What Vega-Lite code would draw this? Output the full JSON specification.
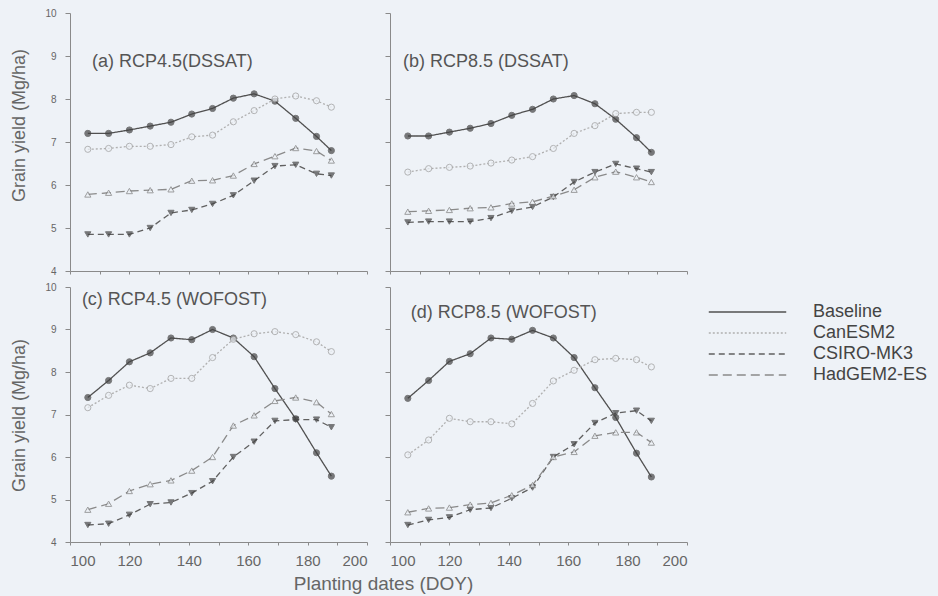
{
  "$schema": "https://vega.github.io/schema/vega-lite/v6.json",
  "autosize": {"type": "none"},
  "padding": {"left": 70, "top": 13, "right": 868, "bottom": 583},
  "background": "#eef2f7",
  "bounds": "flush",
  "columns": 2,
  "spacing": {"row": 16, "column": 23},
  "config": {
    "view": {"stroke": null},
    "font": "Liberation Sans",
    "axis": {"grid": false, "domainColor": "#8a8a8a", "tickColor": "#8a8a8a", "labelColor": "#666", "titleColor": "#666", "labelFont": "Liberation Sans", "titleFont": "Liberation Sans", "titleFontWeight": "normal"},
    "axisX": {"labelFontSize": 15, "tickSize": 3, "labelPadding": 8, "values": [100, 120, 140, 160, 180, 200]},
    "axisY": {"labelFontSize": 10, "tickSize": 5, "labelPadding": 9, "titleFontSize": 18, "values": [4, 5, 6, 7, 8, 9, 10]}
  },
  "data": {"values": [
    {"p":"a","m":"Baseline","d":106,"y":7.2},{"p":"a","m":"Baseline","d":113,"y":7.2},{"p":"a","m":"Baseline","d":120,"y":7.28},{"p":"a","m":"Baseline","d":127,"y":7.37},{"p":"a","m":"Baseline","d":134,"y":7.46},{"p":"a","m":"Baseline","d":141,"y":7.65},{"p":"a","m":"Baseline","d":148,"y":7.78},{"p":"a","m":"Baseline","d":155,"y":8.02},{"p":"a","m":"Baseline","d":162,"y":8.12},{"p":"a","m":"Baseline","d":169,"y":7.95},{"p":"a","m":"Baseline","d":176,"y":7.55},{"p":"a","m":"Baseline","d":183,"y":7.13},{"p":"a","m":"Baseline","d":188,"y":6.8},
    {"p":"a","m":"CanESM2","d":106,"y":6.83},{"p":"a","m":"CanESM2","d":113,"y":6.85},{"p":"a","m":"CanESM2","d":120,"y":6.9},{"p":"a","m":"CanESM2","d":127,"y":6.9},{"p":"a","m":"CanESM2","d":134,"y":6.94},{"p":"a","m":"CanESM2","d":141,"y":7.12},{"p":"a","m":"CanESM2","d":148,"y":7.16},{"p":"a","m":"CanESM2","d":155,"y":7.47},{"p":"a","m":"CanESM2","d":162,"y":7.73},{"p":"a","m":"CanESM2","d":169,"y":8.0},{"p":"a","m":"CanESM2","d":176,"y":8.07},{"p":"a","m":"CanESM2","d":183,"y":7.96},{"p":"a","m":"CanESM2","d":188,"y":7.81},
    {"p":"a","m":"CSIRO-MK3","d":106,"y":4.85},{"p":"a","m":"CSIRO-MK3","d":113,"y":4.85},{"p":"a","m":"CSIRO-MK3","d":120,"y":4.85},{"p":"a","m":"CSIRO-MK3","d":127,"y":5.0},{"p":"a","m":"CSIRO-MK3","d":134,"y":5.35},{"p":"a","m":"CSIRO-MK3","d":141,"y":5.42},{"p":"a","m":"CSIRO-MK3","d":148,"y":5.56},{"p":"a","m":"CSIRO-MK3","d":155,"y":5.76},{"p":"a","m":"CSIRO-MK3","d":162,"y":6.1},{"p":"a","m":"CSIRO-MK3","d":169,"y":6.44},{"p":"a","m":"CSIRO-MK3","d":176,"y":6.47},{"p":"a","m":"CSIRO-MK3","d":183,"y":6.26},{"p":"a","m":"CSIRO-MK3","d":188,"y":6.22},
    {"p":"a","m":"HadGEM2-ES","d":106,"y":5.78},{"p":"a","m":"HadGEM2-ES","d":113,"y":5.82},{"p":"a","m":"HadGEM2-ES","d":120,"y":5.86},{"p":"a","m":"HadGEM2-ES","d":127,"y":5.88},{"p":"a","m":"HadGEM2-ES","d":134,"y":5.9},{"p":"a","m":"HadGEM2-ES","d":141,"y":6.1},{"p":"a","m":"HadGEM2-ES","d":148,"y":6.11},{"p":"a","m":"HadGEM2-ES","d":155,"y":6.22},{"p":"a","m":"HadGEM2-ES","d":162,"y":6.49},{"p":"a","m":"HadGEM2-ES","d":169,"y":6.67},{"p":"a","m":"HadGEM2-ES","d":176,"y":6.86},{"p":"a","m":"HadGEM2-ES","d":183,"y":6.79},{"p":"a","m":"HadGEM2-ES","d":188,"y":6.57},
    {"p":"b","m":"Baseline","d":106,"y":7.14},{"p":"b","m":"Baseline","d":113,"y":7.14},{"p":"b","m":"Baseline","d":120,"y":7.23},{"p":"b","m":"Baseline","d":127,"y":7.32},{"p":"b","m":"Baseline","d":134,"y":7.43},{"p":"b","m":"Baseline","d":141,"y":7.62},{"p":"b","m":"Baseline","d":148,"y":7.76},{"p":"b","m":"Baseline","d":155,"y":8.0},{"p":"b","m":"Baseline","d":162,"y":8.08},{"p":"b","m":"Baseline","d":169,"y":7.89},{"p":"b","m":"Baseline","d":176,"y":7.53},{"p":"b","m":"Baseline","d":183,"y":7.1},{"p":"b","m":"Baseline","d":188,"y":6.76},
    {"p":"b","m":"CanESM2","d":106,"y":6.3},{"p":"b","m":"CanESM2","d":113,"y":6.38},{"p":"b","m":"CanESM2","d":120,"y":6.41},{"p":"b","m":"CanESM2","d":127,"y":6.44},{"p":"b","m":"CanESM2","d":134,"y":6.51},{"p":"b","m":"CanESM2","d":141,"y":6.58},{"p":"b","m":"CanESM2","d":148,"y":6.66},{"p":"b","m":"CanESM2","d":155,"y":6.85},{"p":"b","m":"CanESM2","d":162,"y":7.2},{"p":"b","m":"CanESM2","d":169,"y":7.38},{"p":"b","m":"CanESM2","d":176,"y":7.66},{"p":"b","m":"CanESM2","d":183,"y":7.69},{"p":"b","m":"CanESM2","d":188,"y":7.69},
    {"p":"b","m":"CSIRO-MK3","d":106,"y":5.13},{"p":"b","m":"CSIRO-MK3","d":113,"y":5.15},{"p":"b","m":"CSIRO-MK3","d":120,"y":5.15},{"p":"b","m":"CSIRO-MK3","d":127,"y":5.15},{"p":"b","m":"CSIRO-MK3","d":134,"y":5.23},{"p":"b","m":"CSIRO-MK3","d":141,"y":5.4},{"p":"b","m":"CSIRO-MK3","d":148,"y":5.49},{"p":"b","m":"CSIRO-MK3","d":155,"y":5.72},{"p":"b","m":"CSIRO-MK3","d":162,"y":6.07},{"p":"b","m":"CSIRO-MK3","d":169,"y":6.3},{"p":"b","m":"CSIRO-MK3","d":176,"y":6.49},{"p":"b","m":"CSIRO-MK3","d":183,"y":6.38},{"p":"b","m":"CSIRO-MK3","d":188,"y":6.3},
    {"p":"b","m":"HadGEM2-ES","d":106,"y":5.38},{"p":"b","m":"HadGEM2-ES","d":113,"y":5.4},{"p":"b","m":"HadGEM2-ES","d":120,"y":5.42},{"p":"b","m":"HadGEM2-ES","d":127,"y":5.46},{"p":"b","m":"HadGEM2-ES","d":134,"y":5.48},{"p":"b","m":"HadGEM2-ES","d":141,"y":5.57},{"p":"b","m":"HadGEM2-ES","d":148,"y":5.61},{"p":"b","m":"HadGEM2-ES","d":155,"y":5.74},{"p":"b","m":"HadGEM2-ES","d":162,"y":5.89},{"p":"b","m":"HadGEM2-ES","d":169,"y":6.18},{"p":"b","m":"HadGEM2-ES","d":176,"y":6.31},{"p":"b","m":"HadGEM2-ES","d":183,"y":6.18},{"p":"b","m":"HadGEM2-ES","d":188,"y":6.07},
    {"p":"c","m":"Baseline","d":106,"y":7.4},{"p":"c","m":"Baseline","d":113,"y":7.8},{"p":"c","m":"Baseline","d":120,"y":8.24},{"p":"c","m":"Baseline","d":127,"y":8.45},{"p":"c","m":"Baseline","d":134,"y":8.8},{"p":"c","m":"Baseline","d":141,"y":8.76},{"p":"c","m":"Baseline","d":148,"y":9.0},{"p":"c","m":"Baseline","d":155,"y":8.8},{"p":"c","m":"Baseline","d":162,"y":8.36},{"p":"c","m":"Baseline","d":169,"y":7.61},{"p":"c","m":"Baseline","d":176,"y":6.9},{"p":"c","m":"Baseline","d":183,"y":6.1},{"p":"c","m":"Baseline","d":188,"y":5.55},
    {"p":"c","m":"CanESM2","d":106,"y":7.16},{"p":"c","m":"CanESM2","d":113,"y":7.45},{"p":"c","m":"CanESM2","d":120,"y":7.69},{"p":"c","m":"CanESM2","d":127,"y":7.61},{"p":"c","m":"CanESM2","d":134,"y":7.85},{"p":"c","m":"CanESM2","d":141,"y":7.85},{"p":"c","m":"CanESM2","d":148,"y":8.34},{"p":"c","m":"CanESM2","d":155,"y":8.77},{"p":"c","m":"CanESM2","d":162,"y":8.9},{"p":"c","m":"CanESM2","d":169,"y":8.95},{"p":"c","m":"CanESM2","d":176,"y":8.88},{"p":"c","m":"CanESM2","d":183,"y":8.71},{"p":"c","m":"CanESM2","d":188,"y":8.48},
    {"p":"c","m":"CSIRO-MK3","d":106,"y":4.4},{"p":"c","m":"CSIRO-MK3","d":113,"y":4.43},{"p":"c","m":"CSIRO-MK3","d":120,"y":4.64},{"p":"c","m":"CSIRO-MK3","d":127,"y":4.89},{"p":"c","m":"CSIRO-MK3","d":134,"y":4.93},{"p":"c","m":"CSIRO-MK3","d":141,"y":5.15},{"p":"c","m":"CSIRO-MK3","d":148,"y":5.43},{"p":"c","m":"CSIRO-MK3","d":155,"y":6.0},{"p":"c","m":"CSIRO-MK3","d":162,"y":6.36},{"p":"c","m":"CSIRO-MK3","d":169,"y":6.85},{"p":"c","m":"CSIRO-MK3","d":176,"y":6.88},{"p":"c","m":"CSIRO-MK3","d":183,"y":6.88},{"p":"c","m":"CSIRO-MK3","d":188,"y":6.7},
    {"p":"c","m":"HadGEM2-ES","d":106,"y":4.76},{"p":"c","m":"HadGEM2-ES","d":113,"y":4.9},{"p":"c","m":"HadGEM2-ES","d":120,"y":5.2},{"p":"c","m":"HadGEM2-ES","d":127,"y":5.36},{"p":"c","m":"HadGEM2-ES","d":134,"y":5.45},{"p":"c","m":"HadGEM2-ES","d":141,"y":5.68},{"p":"c","m":"HadGEM2-ES","d":148,"y":6.0},{"p":"c","m":"HadGEM2-ES","d":155,"y":6.74},{"p":"c","m":"HadGEM2-ES","d":162,"y":6.98},{"p":"c","m":"HadGEM2-ES","d":169,"y":7.32},{"p":"c","m":"HadGEM2-ES","d":176,"y":7.4},{"p":"c","m":"HadGEM2-ES","d":183,"y":7.29},{"p":"c","m":"HadGEM2-ES","d":188,"y":7.01},
    {"p":"d","m":"Baseline","d":106,"y":7.38},{"p":"d","m":"Baseline","d":113,"y":7.8},{"p":"d","m":"Baseline","d":120,"y":8.25},{"p":"d","m":"Baseline","d":127,"y":8.43},{"p":"d","m":"Baseline","d":134,"y":8.8},{"p":"d","m":"Baseline","d":141,"y":8.77},{"p":"d","m":"Baseline","d":148,"y":8.98},{"p":"d","m":"Baseline","d":155,"y":8.8},{"p":"d","m":"Baseline","d":162,"y":8.34},{"p":"d","m":"Baseline","d":169,"y":7.63},{"p":"d","m":"Baseline","d":176,"y":6.93},{"p":"d","m":"Baseline","d":183,"y":6.09},{"p":"d","m":"Baseline","d":188,"y":5.53},
    {"p":"d","m":"CanESM2","d":106,"y":6.05},{"p":"d","m":"CanESM2","d":113,"y":6.4},{"p":"d","m":"CanESM2","d":120,"y":6.91},{"p":"d","m":"CanESM2","d":127,"y":6.83},{"p":"d","m":"CanESM2","d":134,"y":6.83},{"p":"d","m":"CanESM2","d":141,"y":6.78},{"p":"d","m":"CanESM2","d":148,"y":7.26},{"p":"d","m":"CanESM2","d":155,"y":7.79},{"p":"d","m":"CanESM2","d":162,"y":8.04},{"p":"d","m":"CanESM2","d":169,"y":8.29},{"p":"d","m":"CanESM2","d":176,"y":8.32},{"p":"d","m":"CanESM2","d":183,"y":8.29},{"p":"d","m":"CanESM2","d":188,"y":8.12},
    {"p":"d","m":"CSIRO-MK3","d":106,"y":4.4},{"p":"d","m":"CSIRO-MK3","d":113,"y":4.52},{"p":"d","m":"CSIRO-MK3","d":120,"y":4.58},{"p":"d","m":"CSIRO-MK3","d":127,"y":4.76},{"p":"d","m":"CSIRO-MK3","d":134,"y":4.8},{"p":"d","m":"CSIRO-MK3","d":141,"y":5.03},{"p":"d","m":"CSIRO-MK3","d":148,"y":5.28},{"p":"d","m":"CSIRO-MK3","d":155,"y":6.0},{"p":"d","m":"CSIRO-MK3","d":162,"y":6.3},{"p":"d","m":"CSIRO-MK3","d":169,"y":6.8},{"p":"d","m":"CSIRO-MK3","d":176,"y":7.03},{"p":"d","m":"CSIRO-MK3","d":183,"y":7.09},{"p":"d","m":"CSIRO-MK3","d":188,"y":6.85},
    {"p":"d","m":"HadGEM2-ES","d":106,"y":4.7},{"p":"d","m":"HadGEM2-ES","d":113,"y":4.79},{"p":"d","m":"HadGEM2-ES","d":120,"y":4.81},{"p":"d","m":"HadGEM2-ES","d":127,"y":4.88},{"p":"d","m":"HadGEM2-ES","d":134,"y":4.92},{"p":"d","m":"HadGEM2-ES","d":141,"y":5.1},{"p":"d","m":"HadGEM2-ES","d":148,"y":5.34},{"p":"d","m":"HadGEM2-ES","d":155,"y":6.0},{"p":"d","m":"HadGEM2-ES","d":162,"y":6.12},{"p":"d","m":"HadGEM2-ES","d":169,"y":6.5},{"p":"d","m":"HadGEM2-ES","d":176,"y":6.58},{"p":"d","m":"HadGEM2-ES","d":183,"y":6.58},{"p":"d","m":"HadGEM2-ES","d":188,"y":6.34}
  ]},
  "concat": [
    {
      "width": 297, "height": 258,
      "layer": [
        {"transform": [{"filter": "datum.p == 'a'"}], "mark": {"type": "line", "strokeWidth": 1.3},
         "encoding": {
           "x": {"field": "d", "type": "quantitative", "scale": {"domain": [100, 200], "nice": false}, "axis": {"labels": false, "title": null}},
           "y": {"field": "y", "type": "quantitative", "scale": {"domain": [4, 10], "nice": false, "zero": false}, "axis": {"title": "Grain yield (Mg/ha)", "titleX": -51, "titleY": 112, "titleAlign": "center", "titleBaseline": "middle"}},
           "color": {"field": "m", "type": "nominal", "scale": {"domain": ["Baseline", "CanESM2", "CSIRO-MK3", "HadGEM2-ES"], "range": ["#505050", "#b0b0b0", "#606060", "#8a8a8a"]},
             "legend": {"orient": "none", "legendX": 638, "legendY": 290, "title": null, "padding": 0, "symbolType": "stroke", "symbolSize": 6000, "clipHeight": 18, "symbolStrokeWidth": 1.3, "labelFontSize": 18, "labelFont": "Liberation Sans", "labelColor": "#444", "labelOffset": 26, "rowPadding": 3}},
           "strokeDash": {"field": "m", "type": "nominal", "scale": {"domain": ["Baseline", "CanESM2", "CSIRO-MK3", "HadGEM2-ES"], "range": [[1, 0], [2, 2], [6, 4], [9, 5]]}}
         }},
        {"transform": [{"filter": "datum.p == 'a'"}], "mark": {"type": "point", "filled": true, "strokeWidth": 1, "size": 38},
         "encoding": {
           "x": {"field": "d", "type": "quantitative"},
           "y": {"field": "y", "type": "quantitative"},
           "shape": {"field": "m", "type": "nominal", "scale": {"domain": ["HadGEM2-ES", "CSIRO-MK3", "CanESM2", "Baseline"], "range": ["triangle-up", "triangle-down", "circle", "circle"]}, "legend": null},
           "fill": {"field": "m", "type": "nominal", "scale": {"domain": ["HadGEM2-ES", "CSIRO-MK3", "CanESM2", "Baseline"], "range": ["#eef2f7", "#444444", "#eef2f7", "#444444"]}, "legend": null},
           "stroke": {"field": "m", "type": "nominal", "scale": {"domain": ["HadGEM2-ES", "CSIRO-MK3", "CanESM2", "Baseline"], "range": ["#7a7a7a", "#444444", "#9a9a9a", "#444444"]}, "legend": null}
         }},
        {"data": {"values": [{"t": "(a) RCP4.5(DSSAT)"}]}, "mark": {"type": "text", "align": "left", "baseline": "middle", "fontSize": 18, "font": "Liberation Sans", "color": "#555"},
         "encoding": {"x": {"datum": 107.4, "type": "quantitative"}, "y": {"datum": 8.85, "type": "quantitative"}, "text": {"field": "t"}}}
      ]
    },
    {
      "width": 297, "height": 258,
      "layer": [
        {"transform": [{"filter": "datum.p == 'b'"}], "mark": {"type": "line", "strokeWidth": 1.3},
         "encoding": {
           "x": {"field": "d", "type": "quantitative", "scale": {"domain": [100, 200], "nice": false}, "axis": {"labels": false, "title": null}},
           "y": {"field": "y", "type": "quantitative", "scale": {"domain": [4, 10], "nice": false, "zero": false}, "axis": {"labels": false, "title": null}},
           "color": {"field": "m", "type": "nominal"},
           "strokeDash": {"field": "m", "type": "nominal"}
         }},
        {"transform": [{"filter": "datum.p == 'b'"}], "mark": {"type": "point", "filled": true, "strokeWidth": 1, "size": 38},
         "encoding": {
           "x": {"field": "d", "type": "quantitative"},
           "y": {"field": "y", "type": "quantitative"},
           "shape": {"field": "m", "type": "nominal", "legend": null},
           "fill": {"field": "m", "type": "nominal", "legend": null},
           "stroke": {"field": "m", "type": "nominal", "legend": null}
         }},
        {"data": {"values": [{"t": "(b) RCP8.5 (DSSAT)"}]}, "mark": {"type": "text", "align": "left", "baseline": "middle", "fontSize": 18, "font": "Liberation Sans", "color": "#555"},
         "encoding": {"x": {"datum": 104.4, "type": "quantitative"}, "y": {"datum": 8.85, "type": "quantitative"}, "text": {"field": "t"}}}
      ]
    },
    {
      "width": 297, "height": 255,
      "layer": [
        {"transform": [{"filter": "datum.p == 'c'"}], "mark": {"type": "line", "strokeWidth": 1.3},
         "encoding": {
           "x": {"field": "d", "type": "quantitative", "scale": {"domain": [100, 200], "nice": false}, "axis": {"title": "Planting dates (DOY)", "titleFontSize": 19, "titleX": 313, "titleY": 47, "titleAlign": "center", "titleBaseline": "alphabetic"}},
           "y": {"field": "y", "type": "quantitative", "scale": {"domain": [4, 10], "nice": false, "zero": false}, "axis": {"title": "Grain yield (Mg/ha)", "titleX": -51, "titleY": 128, "titleAlign": "center", "titleBaseline": "middle"}},
           "color": {"field": "m", "type": "nominal"},
           "strokeDash": {"field": "m", "type": "nominal"}
         }},
        {"transform": [{"filter": "datum.p == 'c'"}], "mark": {"type": "point", "filled": true, "strokeWidth": 1, "size": 38},
         "encoding": {
           "x": {"field": "d", "type": "quantitative"},
           "y": {"field": "y", "type": "quantitative"},
           "shape": {"field": "m", "type": "nominal", "legend": null},
           "fill": {"field": "m", "type": "nominal", "legend": null},
           "stroke": {"field": "m", "type": "nominal", "legend": null}
         }},
        {"data": {"values": [{"t": "(c) RCP4.5 (WOFOST)"}]}, "mark": {"type": "text", "align": "left", "baseline": "middle", "fontSize": 18, "font": "Liberation Sans", "color": "#555"},
         "encoding": {"x": {"datum": 104, "type": "quantitative"}, "y": {"datum": 9.7, "type": "quantitative"}, "text": {"field": "t"}}}
      ]
    },
    {
      "width": 297, "height": 255,
      "layer": [
        {"transform": [{"filter": "datum.p == 'd'"}], "mark": {"type": "line", "strokeWidth": 1.3},
         "encoding": {
           "x": {"field": "d", "type": "quantitative", "scale": {"domain": [100, 200], "nice": false}, "axis": {"title": null}},
           "y": {"field": "y", "type": "quantitative", "scale": {"domain": [4, 10], "nice": false, "zero": false}, "axis": {"labels": false, "title": null}},
           "color": {"field": "m", "type": "nominal"},
           "strokeDash": {"field": "m", "type": "nominal"}
         }},
        {"transform": [{"filter": "datum.p == 'd'"}], "mark": {"type": "point", "filled": true, "strokeWidth": 1, "size": 38},
         "encoding": {
           "x": {"field": "d", "type": "quantitative"},
           "y": {"field": "y", "type": "quantitative"},
           "shape": {"field": "m", "type": "nominal", "legend": null},
           "fill": {"field": "m", "type": "nominal", "legend": null},
           "stroke": {"field": "m", "type": "nominal", "legend": null}
         }},
        {"data": {"values": [{"t": "(d) RCP8.5 (WOFOST)"}]}, "mark": {"type": "text", "align": "left", "baseline": "middle", "fontSize": 18, "font": "Liberation Sans", "color": "#555"},
         "encoding": {"x": {"datum": 107, "type": "quantitative"}, "y": {"datum": 9.4, "type": "quantitative"}, "text": {"field": "t"}}}
      ]
    }
  ]
}
